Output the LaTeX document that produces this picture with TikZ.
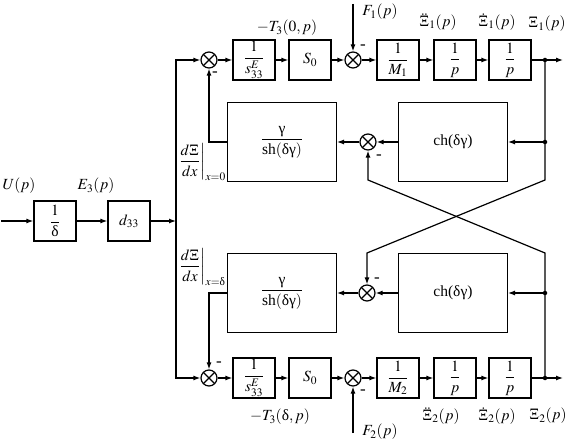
\documentclass[tikz,border=0pt]{standalone}
\usepackage{amsmath}
\usepackage{mathptmx}
\usepackage[no-math]{fontspec}
\setmainfont{Liberation Serif}
\usetikzlibrary{arrows.meta,positioning}

\begin{document}
\begin{tikzpicture}[ % GLOBAL CFG
    x=1pt, y=-1pt,
    font=\fontsize{15.5}{17}\selectfont,
    >={Latex[length=7pt,width=5pt]},
    % Styles
    block/.style={% For the small transfer blocks
        rectangle,
        draw,
        line width=1.2pt,
        minimum width=42pt,
        minimum height=40pt,
        inner sep=0pt,
        },
    bigblock/.style={% For the wide feedback blocks
        rectangle,
        draw,
        line width=1pt,
        minimum width=109pt,
        minimum height=79pt,
        },
    junction/.style={% For the summing points
        circle,
        draw,
        line width=1.2pt,
        minimum size=16pt,
        inner sep=0pt,
        path picture={
            \draw [line width=1.2pt]
                (path picture bounding box.north west) -- (path picture bounding box.south east)
                (path picture bounding box.north east) -- (path picture bounding box.south west);
            },
        },
    tap/.style={% For branch points
        circle,
        fill,
        inner sep=0pt,
        minimum size=4.5pt,
        },
    sign/.style={% For the minus signs
        font=\fontsize{17}{17}\selectfont,
        inner sep=0pt,
        },
    wire/.style={% Connecting lines
        line width=1.2pt,
        },
    ]
    \useasboundingbox (0, 0) rectangle (567, 443);

    % Input stage
    \coordinate (in) at (1, 221);
    \node [block] (delta) at (55, 221) {$\dfrac{1}{\text{δ}}$};
    \node [block] (d33) at (129, 221) {$d_{33}$};
    \coordinate (bus) at (176, 221);
    \node (Ulab) at (19, 186) {$U(p)$};
    \node (Elab) at (96, 186) {$E_3(p)$};

    % Upper forward path
    \node [junction] (sumA1) at (209, 60) {};
    \node [block] (s1) at (254, 60) {$\dfrac{1}{s_{33}^{E}}$};
    \node [block] (S1) at (310, 60) {$S_0$};
    \node [junction] (sumB1) at (353, 60) {};
    \node [block] (M1) at (398, 60) {$\dfrac{1}{M_1}$};
    \node [block] (pa1) at (455, 60) {$\dfrac{1}{p}$};
    \node [block] (pb1) at (510, 60) {$\dfrac{1}{p}$};
    \node [tap] (o1) at (545, 60) {};
    \coordinate (end1) at (563, 60);
    \coordinate (f1) at (353, 4);

    % Upper feedback
    \node [bigblock] (g1) at (282, 142) {$\dfrac{\text{γ}}{\text{sh}(\text{δγ})}$};
    \node [junction] (sumC1) at (368, 142) {};
    \node [bigblock] (ch1) at (453, 142) {ch(δγ)};
    \node [tap] (t1) at (545, 142) {};
    \coordinate (r1) at (545, 180);
    \coordinate (k1) at (368, 180);

    % Lower feedback
    \node [bigblock] (g2) at (282, 293) {$\dfrac{\text{γ}}{\text{sh}(\text{δγ})}$};
    \node [junction] (sumC2) at (367, 293) {};
    \node [bigblock] (ch2) at (453, 293) {ch(δγ)};
    \node [tap] (t2) at (545, 293) {};
    \coordinate (r2) at (545, 253);
    \coordinate (k2) at (367, 253);

    % Lower forward path
    \node [junction] (sumA2) at (209, 378) {};
    \node [block] (s2) at (254, 378) {$\dfrac{1}{s_{33}^{E}}$};
    \node [block] (S2) at (310, 378) {$S_0$};
    \node [junction] (sumB2) at (353, 378) {};
    \node [block] (M2) at (398, 378) {$\dfrac{1}{M_2}$};
    \node [block] (pa2) at (455, 378) {$\dfrac{1}{p}$};
    \node [block] (pb2) at (510, 378) {$\dfrac{1}{p}$};
    \node [tap] (o2) at (545, 378) {};
    \coordinate (end2) at (563, 378);
    \coordinate (f2) at (353, 433);

    % Signal labels
    \node (T1lab) at (287, 28) {$-T_3(0,p)$};
    \node (F1lab) at (380, 12) {$F_1(p)$};
    \node (X1a) at (438, 22) {$\ddot{\Xi}_1(p)$};
    \node (X1b) at (497, 22) {$\dot{\Xi}_1(p)$};
    \node (X1c) at (547, 24) {$\Xi_1(p)$};
    \node (D1lab) at (202, 162) {$\left.\dfrac{d\Xi}{dx}\right|_{x=0}$};
    \node (D2lab) at (202, 267) {$\left.\dfrac{d\Xi}{dx}\right|_{x=\text{δ}}$};
    \node (T2lab) at (280, 417) {$-T_3(\text{δ},p)$};
    \node (F2lab) at (380, 432) {$F_2(p)$};
    \node (X2a) at (441, 416) {$\ddot{\Xi}_2(p)$};
    \node (X2b) at (497, 416) {$\dot{\Xi}_2(p)$};
    \node (X2c) at (548, 416) {$\Xi_2(p)$};

    % Minus signs
    \node [sign] (mA1) at (215, 74) {-};
    \node [sign] (mB1) at (363, 47) {-};
    \node [sign] (mC1) at (379, 157) {-};
    \node [sign] (mC2) at (377, 280) {-};
    \node [sign] (mA2) at (219, 364) {-};
    \node [sign] (mB2) at (363, 392) {-};

    % Input connections
    \draw [->, wire] (in) -- (delta);
    \draw [->, wire] (delta) -- (d33);
    \draw [->, wire] (d33) -- (bus);
    \draw [->, wire] (bus) |- (sumA1);
    \draw [->, wire] (bus) |- (sumA2);

    % Upper chain
    \draw [->, wire] (sumA1) -- (s1);
    \draw [->, wire] (s1) -- (S1);
    \draw [->, wire] (S1) -- (sumB1);
    \draw [->, wire] (f1) -- (sumB1);
    \draw [->, wire] (sumB1) -- (M1);
    \draw [->, wire] (M1) -- (pa1);
    \draw [->, wire] (pa1) -- (pb1);
    \draw [->, wire] (pb1) -- (end1);

    % Lower chain
    \draw [->, wire] (sumA2) -- (s2);
    \draw [->, wire] (s2) -- (S2);
    \draw [->, wire] (S2) -- (sumB2);
    \draw [->, wire] (f2) -- (sumB2);
    \draw [->, wire] (sumB2) -- (M2);
    \draw [->, wire] (M2) -- (pa2);
    \draw [->, wire] (pa2) -- (pb2);
    \draw [->, wire] (pb2) -- (end2);

    % Feedback loops
    \draw [->, wire] (t1) -- (ch1);
    \draw [->, wire] (ch1) -- (sumC1);
    \draw [->, wire] (sumC1) -- (g1);
    \draw [->, wire] (g1.west) -| (sumA1);
    \draw [->, wire] (t2) -- (ch2);
    \draw [->, wire] (ch2) -- (sumC2);
    \draw [->, wire] (sumC2) -- (g2);
    \draw [->, wire] (g2.west) -| (sumA2);

    % Cross coupling
    \draw [->, wire] (o1.center) -- (r1) -- (k2) -- (sumC2);
    \draw [->, wire] (o2.center) -- (r2) -- (k1) -- (sumC1);
\end{tikzpicture}
\end{document}
